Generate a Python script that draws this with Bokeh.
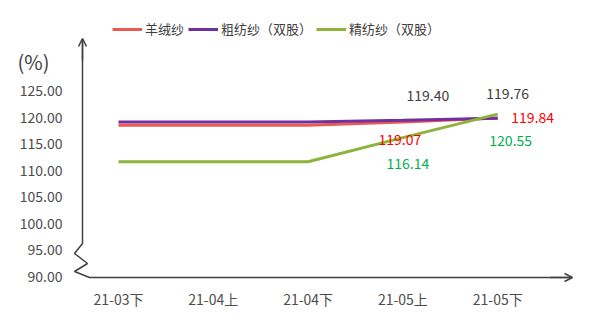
from bokeh.plotting import figure
from bokeh.models import (Range1d, Legend, LegendItem, Label, Arrow,
                          OpenHead, ColumnDataSource)
from bokeh.core.properties import value
from bokeh.embed import file_html
from bokeh.resources import INLINE

categories = ["21-03下", "21-04上", "21-04下", "21-05上", "21-05下"]
cashmere = [118.44, 118.44, 118.44, 119.07, 119.84]       # 羊绒纱
woolen = [119.06, 119.06, 119.06, 119.40, 119.76]         # 粗纺纱（双股）
worsted = [111.60, 111.60, 111.60, 116.14, 120.55]        # 精纺纱（双股）
series_names = ["羊绒纱", "粗纺纱（双股）", "精纺纱（双股）"]
y_ticks = [90, 95, 100, 105, 110, 115, 120, 125]

FONT = "Noto Sans CJK SC"
xs = list(range(len(categories)))

# pixel geometry helpers (frame covers the whole canvas)
X0, DX = 118.0, 94.8
Y0, DY = 276.0, 5.314
def px_x(px):
    return (px - X0) / DX
def px_y(py):
    return 90 + (Y0 - py) / DY

p = figure(width=600, height=331, output_backend="svg", toolbar_location=None,
           x_range=Range1d(px_x(0), px_x(600)), y_range=Range1d(px_y(331), px_y(0)),
           min_border=0)
p.outline_line_color = None
p.background_fill_color = "white"
p.border_fill_color = "white"
p.xaxis.visible = False
p.yaxis.visible = False
p.xgrid.grid_line_color = None
p.ygrid.grid_line_color = None

# tick labels
p.text(x=[px_x(62)] * len(y_ticks), y=y_ticks, text=[f"{t:.2f}" for t in y_ticks],
       text_font=value(FONT), text_font_size="14px", text_color="#4d4d4d",
       text_align="right", text_baseline="middle")
p.text(x=xs, y=[px_y(298)] * len(xs), text=categories,
       text_font=value(FONT), text_font_size="14px", text_color="#4d4d4d",
       text_align="center", text_baseline="middle")

# decorative axes: vertical with zigzag break, horizontal baseline
axis_px = [(82, 40), (82, 243), (74, 253), (87, 263), (74, 271), (89, 277), (570, 277)]
p.line([px_x(a) for a, b in axis_px], [px_y(b) for a, b in axis_px],
       line_color="#404040", line_width=1.5)
p.add_layout(Arrow(end=OpenHead(size=8, line_color="#404040", line_width=1.5),
                   x_start=px_x(82), y_start=px_y(60), x_end=px_x(82), y_end=px_y(38),
                   line_color="#404040", line_width=1.5))
p.add_layout(Arrow(end=OpenHead(size=8, line_color="#404040", line_width=1.5),
                   x_start=px_x(550), y_start=px_y(277), x_end=px_x(572), y_end=px_y(277),
                   line_color="#404040", line_width=1.5))

colors = ["#ea5a4f", "#7030a0", "#8db33a"]
r1 = p.line(xs, cashmere, line_color=colors[0], line_width=3)
r2 = p.line(xs, woolen, line_color=colors[1], line_width=3)
r3 = p.line(xs, worsted, line_color=colors[2], line_width=3)

legend = Legend(items=[LegendItem(label=series_names[0], renderers=[r1]),
                       LegendItem(label=series_names[1], renderers=[r2]),
                       LegendItem(label=series_names[2], renderers=[r3])],
                orientation="horizontal", location=(112, 293),
                label_text_font=FONT, label_text_font_size="13px",
                label_text_color="#404040", glyph_width=30, glyph_height=14,
                label_standoff=3, spacing=4, padding=0, margin=0,
                border_line_color=None, background_fill_alpha=0)
p.add_layout(legend)

# data labels for the last two points
def add_labels(vals, color, offs):
    src = ColumnDataSource(dict(x=xs[3:], y=vals[3:],
                                t=[f"{v:.2f}" for v in vals[3:]],
                                dx=[o[0] for o in offs], dy=[o[1] for o in offs]))
    p.text("x", "y", text="t", source=src, x_offset="dx", y_offset="dy",
           text_font=value(FONT), text_font_size="14px", text_color=color,
           text_align="center", text_baseline="middle")

add_labels(woolen, "#404040", [(25, -25), (10, -25)])
add_labels(cashmere, "#ff0000", [(-3, 17), (35, 0)])
add_labels(worsted, "#00b050", [(5, 26), (13, 26)])

p.add_layout(Label(x=px_x(17), y=px_y(61), text="(%)",
                   text_font=FONT, text_font_size="20px", text_color="#404040",
                   text_baseline="middle", text_align="left"))

open("out.html", "w").write(file_html(p, INLINE))
